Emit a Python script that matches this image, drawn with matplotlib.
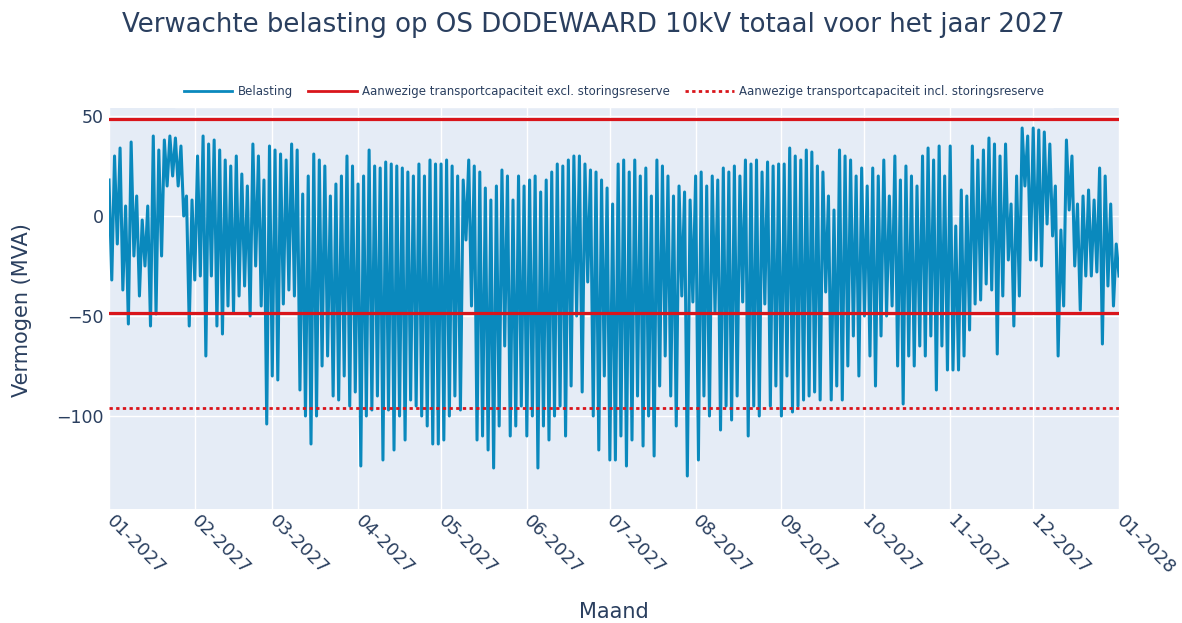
import numpy as np
import matplotlib
matplotlib.use("Agg")
import matplotlib.pyplot as plt
import matplotlib.dates as mdates
from matplotlib.lines import Line2D

# belasting per blok van 2 dagen: piek (nacht) en dal (middag), MVA
piek = [
    18, 30, 34, 5, 37, 10, -2, 5, 40, 33, 38, 40, 39, 35, 10,          # jan
    8, 30, 40, 36, 38, 33, 28, 25, 30, 21, 15, 36, 30, 18, 35,         # feb
    33, 31, 28, 36, 33, 11, 20, 31, 28, 25, 10, 16, 20, 30, 25,        # mrt
    16, 20, 33, 25, 24, 27, 26, 25, 24, 22, 20, 26, 20, 28, 26,        # apr
    26, 28, 25, 20, 18, 28, 25, 22, 14, 8, 15, 23, 20, 8, 20, 15,      # mei
    18, 20, 12, 18, 22, 26, 25, 28, 30, 30, 26, 23, 22, 18, 14,        # jun
    6, 26, 28, 22, 28, 20, 24, 10, 28, 25, 20, 10, 15, 12, 8,          # jul
    20, 22, 15, 20, 18, 24, 22, 25, 20, 28, 26, 28, 22, 27, 25, 26,    # aug
    26, 34, 30, 28, 33, 32, 25, 22, 10, 3, 33, 30, 28, 20, 24,         # sep
    15, 24, 20, 28, 10, 30, 18, 25, 20, 15, 30, 34, 28, 35, 20,        # okt
    35, -5, 13, 10, 35, 28, 33, 39, 36, 30, 36, 6, 20, 44, 40,         # nov
    44, 43, 42, 36, 15, -7, 38, 30, 6, 10, 13, 8, 24, 20, 6, -14,      # dec
]
dal = [
    -32, -14, -37, -54, -20, -40, -25, -55, -49, -20, 15, 20, 15, 0, -55,
    -32, -30, -70, -30, -55, -59, -45, -48, -40, -35, -50, -25, -45, -104, -80,
    -82, -44, -37, -40, -87, -100, -114, -100, -75, -70, -90, -92, -80, -95, -88,
    -125, -100, -97, -90, -122, -97, -117, -100, -112, -92, -95, -100, -105, -114, -114,
    -112, -100, -90, -97, -12, -45, -112, -110, -117, -126, -105, -65, -110, -105, -95, -110,
    -100, -126, -105, -112, -100, -95, -110, -85, -50, -88, -33, -100, -117, -80, -122,
    -122, -110, -125, -112, -90, -115, -100, -120, -85, -70, -90, -105, -40, -130, -43,
    -122, -90, -100, -48, -107, -95, -102, -90, -43, -110, -95, -100, -44, -95, -85, -100,
    -80, -98, -95, -92, -90, -88, -92, -38, -92, -85, -92, -75, -60, -80, -50,
    -70, -85, -60, -50, -45, -75, -94, -70, -75, -65, -70, -60, -87, -65, -77,
    -77, -77, -70, -57, -44, -42, -34, -37, -69, -40, -22, -55, -40, 15, -22,
    -22, -25, -4, -10, -70, -45, 3, -25, -47, -30, -30, -28, -64, -35, -45, -30,
]

cap_excl = 48.5     # MVA, transportcapaciteit excl. storingsreserve (+/-)
cap_incl = -96      # MVA, incl. storingsreserve

start = np.datetime64("2027-01-01T00:00")
einde = np.datetime64("2028-01-01T00:00")

tekst = "#2a3f5f"
blauw = "#0a89bd"
rood = "#d9151b"

# piek en dal om en om, gelijk verdeeld over het jaar
waarden = np.column_stack([piek, dal]).ravel()
uren = np.linspace(0, 365 * 24, len(waarden)).astype("timedelta64[h]")
tijd = start + uren

fig = plt.figure(figsize=(11.82, 6.23), dpi=100)
ax = fig.add_axes([109 / 1182, 1 - 509 / 623, 1010 / 1182, 401 / 623])
ax.set_facecolor("#e5ecf6")

ax.plot(tijd, waarden, color=blauw, lw=2.2, zorder=2)
ax.axhline(cap_excl, color=rood, lw=2.3, zorder=3)
ax.axhline(-cap_excl, color=rood, lw=2.3, zorder=3)
ax.axhline(cap_incl, color=rood, lw=2.0, ls=(0, (1.2, 1.2)), zorder=3)

ax.set_xlim(start, einde)
ax.set_ylim(-146.5, 54)
ax.set_yticks([50, 0, -50, -100])
ax.xaxis.set_major_locator(mdates.MonthLocator())
ax.xaxis.set_major_formatter(mdates.DateFormatter("%m-%Y"))
ax.grid(True, color="white", lw=1.0, zorder=0)
ax.set_axisbelow(True)
for s in ax.spines.values():
    s.set_visible(False)
ax.tick_params(axis="y", length=0, labelsize=12.5, labelcolor=tekst, pad=4)
ax.tick_params(axis="x", length=0, labelsize=13, labelcolor=tekst, pad=7)
for lab in ax.get_xticklabels():
    lab.set_rotation(-45)
    lab.set_ha("left")
    lab.set_va("center")
    lab.set_rotation_mode("anchor")

fig.text(0.5017, 1 - 25 / 623, "Verwachte belasting op OS DODEWAARD 10kV totaal voor het jaar 2027",
         ha="center", va="center", fontsize=18.7, color=tekst)
fig.text(22 / 1182, 1 - 310 / 623, "Vermogen (MVA)", rotation=90, ha="center", va="center",
         fontsize=15, color=tekst)
fig.text(614 / 1182, 1 - 612 / 623, "Maand", ha="center", va="center", fontsize=15, color=tekst)

handles = [
    Line2D([], [], color=blauw, lw=2),
    Line2D([], [], color=rood, lw=2),
    Line2D([], [], color=rood, lw=2, ls=(0, (1.2, 1.2))),
]
labels = [
    "Belasting",
    "Aanwezige transportcapaciteit excl. storingsreserve",
    "Aanwezige transportcapaciteit incl. storingsreserve",
]
leg = fig.legend(handles, labels, loc="lower center", bbox_to_anchor=(614 / 1182, 1 - 113 / 623),
                 ncol=3, fontsize=8.5, frameon=True, facecolor="white", edgecolor="white",
                 framealpha=1, fancybox=False, handlelength=4.1, handletextpad=0.45,
                 columnspacing=1.3, borderpad=0.8, labelcolor=tekst)

fig.savefig("out.png", dpi=100)
